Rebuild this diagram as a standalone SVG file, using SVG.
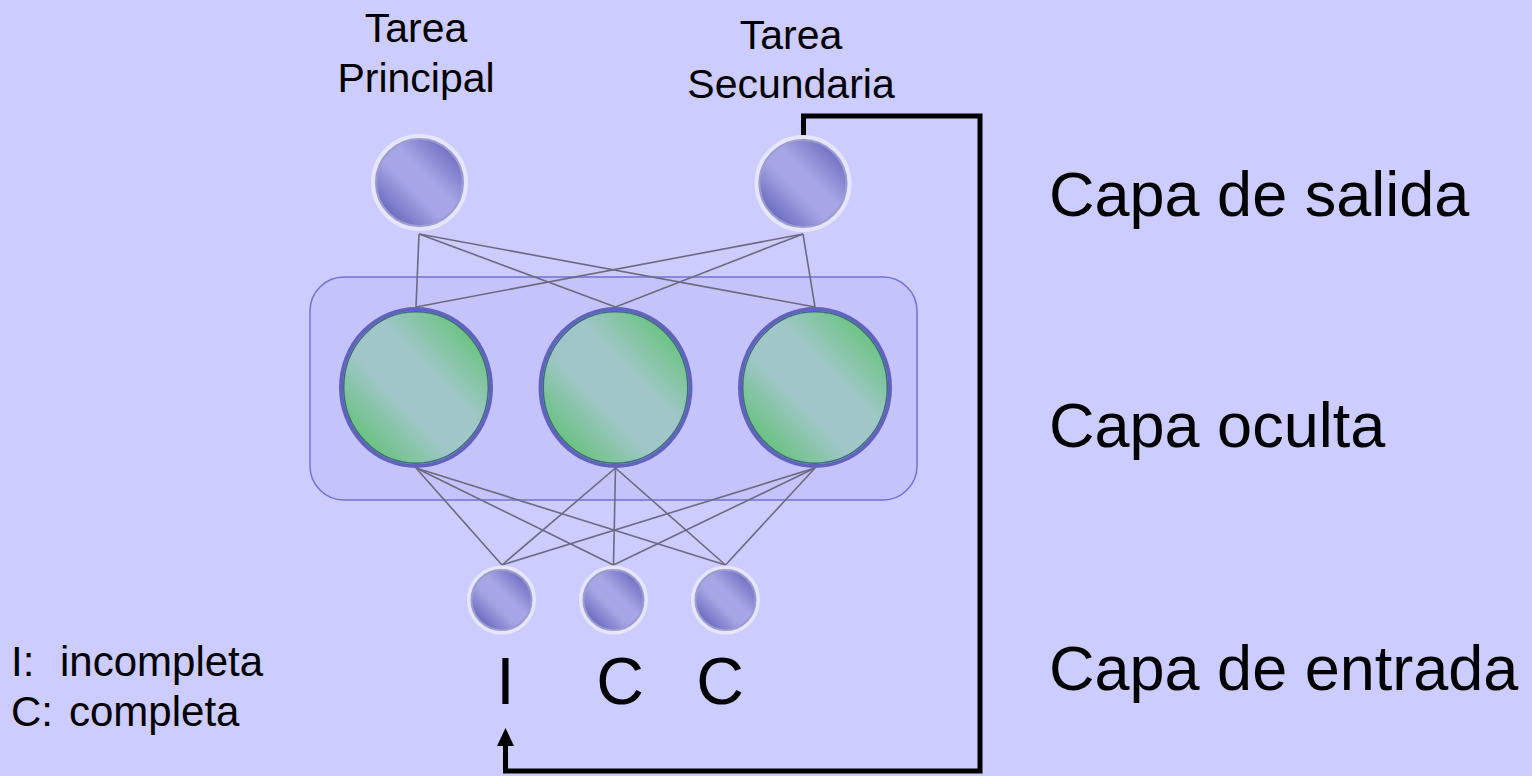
<svg xmlns="http://www.w3.org/2000/svg" width="1532" height="776" viewBox="0 0 1532 776">
  <defs>
    <style>
      .txt { font-family: "Liberation Sans", Arial, sans-serif; fill: #000; }
      .lbl { font-size: 41px; }
      .layer { font-size: 63px; }
      .io { font-size: 66px; }
      .legend { font-size: 42px; }
      .wire { stroke: #6A6A80; stroke-width: 1.6; fill: none; }
      .loop { stroke: #000; stroke-width: 5; fill: none; stroke-linejoin: miter; }
      .ring { fill: none; stroke: #E6E6FB; }
      .unit { fill: url(#blueGrad); stroke: #9C9CCE; stroke-width: 2; }
      .hid { fill: url(#greenGrad); stroke: #6262BE; stroke-width: 4; }
      .hidEdge { fill: none; stroke: #3C6A82; stroke-width: 1.5; }
    </style>
    <linearGradient id="blueGrad" x1="1" y1="0" x2="0" y2="1">
      <stop offset="0" stop-color="#5858B2"/>
      <stop offset="0.42" stop-color="#A6A6E6"/>
      <stop offset="0.58" stop-color="#A6A6E6"/>
      <stop offset="1" stop-color="#4E4EAC"/>
    </linearGradient>
    <linearGradient id="greenGrad" x1="1" y1="0" x2="0" y2="1">
      <stop offset="0" stop-color="#4EC25A"/>
      <stop offset="0.4" stop-color="#A0C6C8"/>
      <stop offset="0.6" stop-color="#A0C6C8"/>
      <stop offset="1" stop-color="#48BF55"/>
    </linearGradient>
    <marker id="arrowHead" markerUnits="userSpaceOnUse" markerWidth="18" markerHeight="18" refX="6" refY="8.5" orient="auto">
      <path d="M0,0 L18,8.5 L0,17 z" fill="#000"/>
    </marker>
  </defs>

  <!-- background -->
  <rect x="0" y="0" width="1532" height="776" fill="#CCCCFF"/>

  <!-- hidden layer container -->
  <g id="hidden-box">
    <rect x="310" y="277" width="607" height="223" rx="34" ry="34" fill="#C4C4FB" stroke="#7272D2" stroke-width="1.5"/>
  </g>

  <!-- connectors -->
  <g id="connectors">
    <!-- output to hidden -->
    <line class="wire" x1="419" y1="234" x2="416" y2="307"/>
    <line class="wire" x1="419" y1="234" x2="615.5" y2="307"/>
    <line class="wire" x1="419" y1="234" x2="815" y2="307"/>
    <line class="wire" x1="803" y1="234" x2="416" y2="307"/>
    <line class="wire" x1="803" y1="234" x2="615.5" y2="307"/>
    <line class="wire" x1="803" y1="234" x2="815" y2="307"/>
    <!-- hidden to input -->
    <line class="wire" x1="416" y1="468" x2="502" y2="565"/>
    <line class="wire" x1="416" y1="468" x2="613.5" y2="565"/>
    <line class="wire" x1="416" y1="468" x2="725.5" y2="565"/>
    <line class="wire" x1="615.5" y1="468" x2="502" y2="565"/>
    <line class="wire" x1="615.5" y1="468" x2="613.5" y2="565"/>
    <line class="wire" x1="615.5" y1="468" x2="725.5" y2="565"/>
    <line class="wire" x1="815" y1="468" x2="502" y2="565"/>
    <line class="wire" x1="815" y1="468" x2="613.5" y2="565"/>
    <line class="wire" x1="815" y1="468" x2="725.5" y2="565"/>
    <!-- feedback from secondary task back to input I -->
    <path class="loop" d="M803.5,140 V116 H980 V771 H505.5 V740" marker-end="url(#arrowHead)"/>
  </g>

  <!-- output layer -->
  <g id="out-principal">
    <circle class="ring" cx="419.5" cy="182.5" r="46.5" stroke-width="4"/>
    <circle class="unit" cx="419.5" cy="182.5" r="43.5"/>
  </g>
  <g id="out-secundaria">
    <circle class="ring" cx="803" cy="183.5" r="46.5" stroke-width="4"/>
    <circle class="unit" cx="803" cy="183.5" r="43.5"/>
  </g>

  <!-- hidden layer -->
  <g id="hidden-1">
    <ellipse class="hid" cx="416" cy="387.5" rx="75" ry="78.5"/>
    <ellipse class="hidEdge" cx="416" cy="387.5" rx="72.3" ry="75.8"/>
  </g>
  <g id="hidden-2">
    <ellipse class="hid" cx="615.5" cy="387.5" rx="75" ry="78.5"/>
    <ellipse class="hidEdge" cx="615.5" cy="387.5" rx="72.3" ry="75.8"/>
  </g>
  <g id="hidden-3">
    <ellipse class="hid" cx="815" cy="387.5" rx="75" ry="78.5"/>
    <ellipse class="hidEdge" cx="815" cy="387.5" rx="72.3" ry="75.8"/>
  </g>

  <!-- input layer -->
  <g id="in-1">
    <circle class="ring" cx="501.5" cy="600" r="32.7" stroke-width="3.6"/>
    <circle class="unit" cx="501.5" cy="600" r="30"/>
  </g>
  <g id="in-2">
    <circle class="ring" cx="613.5" cy="600" r="32.7" stroke-width="3.6"/>
    <circle class="unit" cx="613.5" cy="600" r="30"/>
  </g>
  <g id="in-3">
    <circle class="ring" cx="725.5" cy="600" r="32.7" stroke-width="3.6"/>
    <circle class="unit" cx="725.5" cy="600" r="30"/>
  </g>

  <!-- task labels -->
  <g id="label-principal">
    <text class="txt lbl" x="416" y="42" text-anchor="middle">Tarea</text>
    <text class="txt lbl" x="416" y="92" text-anchor="middle">Principal</text>
  </g>
  <g id="label-secundaria">
    <text class="txt lbl" x="791" y="49" text-anchor="middle">Tarea</text>
    <text class="txt lbl" x="791" y="98" text-anchor="middle">Secundaria</text>
  </g>

  <!-- layer names -->
  <g id="layer-names">
    <text class="txt layer" x="1049" y="216">Capa de salida</text>
    <text class="txt layer" x="1049" y="447">Capa oculta</text>
    <text class="txt layer" x="1049" y="690">Capa de entrada</text>
  </g>

  <!-- input codes -->
  <g id="input-codes">
    <text class="txt io" x="505.5" y="704" text-anchor="middle">I</text>
    <text class="txt io" x="620" y="704" text-anchor="middle">C</text>
    <text class="txt io" x="720" y="704" text-anchor="middle">C</text>
  </g>

  <!-- legend -->
  <g id="legend">
    <text class="txt legend" x="11" y="676">I:<tspan x="60">incompleta</tspan></text>
    <text class="txt legend" x="11" y="726">C:<tspan x="69">completa</tspan></text>
  </g>
</svg>
